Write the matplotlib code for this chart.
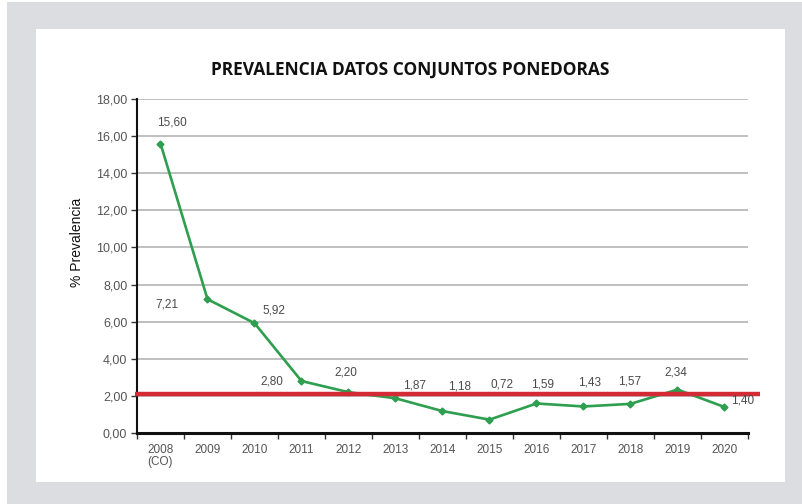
import matplotlib
matplotlib.use('Agg')
import matplotlib.pyplot as plt
import matplotlib.patches as patches
import numpy as np

# ── Data ──────────────────────────────────────────────────────────────────────
years = ['2008\n(CO)', '2009', '2010', '2011', '2012', '2013', '2014',
         '2015', '2016', '2017', '2018', '2019', '2020']
prevalence = [15.60, 7.21, 5.92, 2.80, 2.20, 1.87, 1.18, 0.72, 1.59, 1.43, 1.57, 2.34, 1.40]
threshold = 2.1
yticks = [0, 2, 4, 6, 8, 10, 12, 14, 16, 18]

# label offsets in points (Excel-style placement)
label_offsets = [(8, 15), (-29, -4), (14, 9), (-21, 0), (-2, 14), (14, 9), (12, 18),
                 (9, 25), (4, 14), (4, 17), (-1, 16), (-1, 12), (13, 5)]

TITLE = 'PREVALENCIA DATOS CONJUNTOS PONEDORAS'
GREEN = '#2e9e4f'
RED = '#d42a35'
GREY_BG = '#dcdde0'

fig = plt.figure(figsize=(8.03, 5.04), dpi=100)
fig.patch.set_facecolor('white')

# gray frame + white panel
fig.add_artist(patches.Rectangle((7 / 803, 0), 1, 1 - 2 / 504, transform=fig.transFigure,
                                 facecolor=GREY_BG, edgecolor='none', zorder=0))
fig.add_artist(patches.Rectangle((36 / 803, 1 - 482 / 504), (785 - 36) / 803, (482 - 29) / 504,
                                 transform=fig.transFigure, facecolor='white',
                                 edgecolor='none', zorder=0))

ax = fig.add_axes([137 / 803, 1 - 433 / 504, 611 / 803, 334 / 504])
ax.set_facecolor('none')

x = np.arange(len(years))
ax.plot(x, prevalence, color=GREEN, lw=1.9, marker='D', ms=3.5, zorder=3)
ax.plot([-0.55, 12.76], [threshold, threshold], color=RED, lw=3.2, zorder=4,
        clip_on=False, solid_capstyle='butt')

for xi, v, (dx, dy) in zip(x, prevalence, label_offsets):
    ax.annotate(f'{v:.2f}'.replace('.', ','), (xi, v), xytext=(dx, dy),
                textcoords='offset points', ha='center', va='center',
                fontsize=8.5, color='#4a4a4a', family='Liberation Sans', zorder=5)

ax.set_xlim(-0.5, len(years) - 0.5)
ax.set_ylim(0, 18)
ax.set_yticks(yticks)
ax.set_yticklabels([f'{t:.2f}'.replace('.', ',') for t in yticks])
ax.set_xticks(x)
ax.set_xticklabels(years)
ax.set_xticks(np.arange(-0.5, len(years)), minor=True)
ax.tick_params(axis='x', which='major', length=0, pad=8)
ax.tick_params(axis='x', which='minor', length=4, width=1, direction='out', color='#333333')
ax.tick_params(axis='y', length=4, width=1, direction='out', color='#333333', pad=3)
for lab in ax.get_xticklabels():
    lab.set_fontsize(8.5)
    lab.set_color('#555555')
    lab.set_family('Liberation Sans')
    lab.set_linespacing(1.0)
for lab in ax.get_yticklabels():
    lab.set_fontsize(9)
    lab.set_color('#555555')
    lab.set_family('Liberation Sans')

ax.grid(axis='y', color='#b4b4b4', lw=1.2)
ax.set_axisbelow(True)
for s in ['top', 'right']:
    ax.spines[s].set_visible(False)
ax.spines['left'].set_linewidth(1.5)
ax.spines['bottom'].set_linewidth(2.2)
ax.spines['left'].set_color('#111111')
ax.spines['bottom'].set_color('#111111')

ax.set_ylabel('% Prevalencia', fontsize=10, color='#111111', family='Liberation Sans')
ax.yaxis.set_label_coords(-0.087, 0.572)

fig.text(410 / 803, 1 - 70 / 504, TITLE, ha='center', va='center',
         fontsize=12.5, fontweight='bold', family='Open Sans', color='#111111')

fig.savefig('out.png', dpi=100)
